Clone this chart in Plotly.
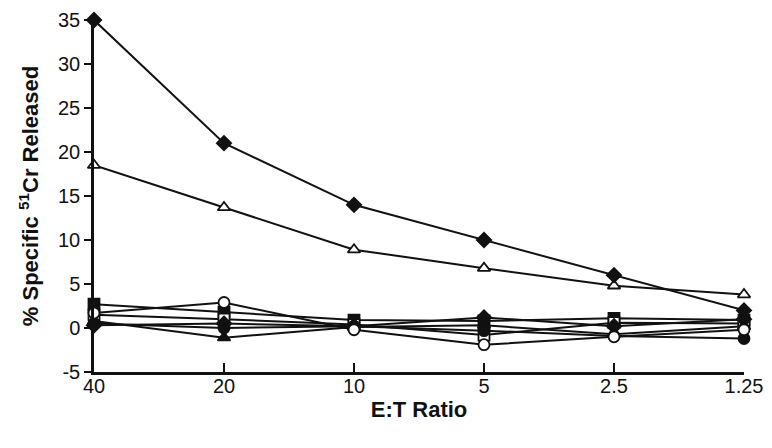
import plotly.graph_objects as go

# E:T ratios (categorical, equally spaced)
et_ratio = ["40", "20", "10", "5", "2.5", "1.25"]

# % specific 51Cr release per target / condition
diamond_filled = [35.0, 21.0, 14.0, 10.0, 6.0, 2.0]
triangle_open = [18.5, 13.7, 8.9, 6.8, 4.8, 3.8]
square_filled = [2.7, 1.8, 0.9, 0.8, 1.1, 0.9]
circle_open = [1.7, 2.9, -0.2, -1.9, -1.0, -0.2]
circle_filled = [0.5, 0.0, 0.2, -0.3, -0.9, -1.2]
triangle_filled = [0.8, -1.1, 0.1, 0.3, -0.7, 0.2]
square_open = [1.5, 1.0, 0.4, -0.8, 0.6, 0.5]
diamond_small = [0.3, 0.5, 0.2, 1.2, 0.2, 1.0]

y_ticks = [-5, 0, 5, 10, 15, 20, 25, 30, 35]
y_tick_text = ["-5", "0", "5", "10", "15", "20", "25", "30", "35"]

FONT = "Liberation Sans, Arial, Helvetica, sans-serif"
BLACK = "#111111"

series = [
    (square_filled, "square"),
    (square_open, "square-open"),
    (triangle_filled, "triangle-up"),
    (circle_filled, "circle"),
    (diamond_small, "diamond"),
    (circle_open, "circle-open"),
    (triangle_open, "triangle-up-open"),
    (diamond_filled, "diamond"),
]

fig = go.Figure()
for vals, sym in series:
    is_open = sym.endswith("-open")
    fig.add_trace(go.Scatter(
        x=list(range(len(et_ratio))),
        y=vals,
        mode="lines+markers",
        line=dict(color=BLACK, width=2),
        marker=dict(
            symbol=sym.replace("-open", "") if is_open else sym,
            size=11,
            color="white" if is_open else BLACK,
            line=dict(color=BLACK, width=1.8),
        ),
        cliponaxis=False,
        showlegend=False,
    ))

# page body keeps its default 8px margin -> size the figure so the page fits the window
fig.update_layout(
    width=756, height=432,
    paper_bgcolor="white", plot_bgcolor="white",
    margin=dict(l=86, r=20, t=12, b=68),
    font=dict(family=FONT, size=20, color=BLACK),
    xaxis=dict(
        tickmode="array",
        tickvals=list(range(len(et_ratio))),
        ticktext=et_ratio,
        range=[0, 5],
        automargin=False,
        showgrid=False, zeroline=False,
        showline=True, linecolor=BLACK, linewidth=2.5,
        ticks="inside", ticklen=9, tickwidth=2, tickcolor=BLACK,
        tickfont=dict(size=20),
        ticklabelstandoff=-6,
        title=dict(text="<b>E:T Ratio</b>", font=dict(size=22), standoff=6),
    ),
    yaxis=dict(
        tickmode="array",
        tickvals=y_ticks,
        ticktext=y_tick_text,
        range=[-5, 35],
        automargin=False,
        showgrid=False, zeroline=False,
        showline=True, linecolor=BLACK, linewidth=2.5,
        ticks="outside", ticklen=7, tickwidth=2, tickcolor=BLACK,
        tickfont=dict(size=20),
        title=dict(text="<b>% Specific <sup>51</sup>Cr Released</b>", font=dict(size=22), standoff=14),
    ),
)

fig.write_html("out.html")
